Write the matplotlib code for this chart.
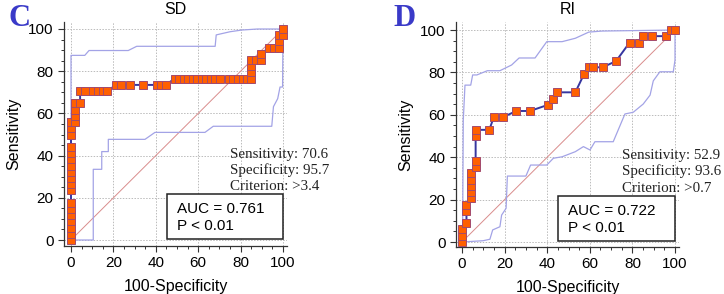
import matplotlib
matplotlib.use("Agg")
import matplotlib.pyplot as plt
from matplotlib.patches import Rectangle
from matplotlib.ticker import MultipleLocator

# ROC points, panel C (SD)
sd_x = [0, 0, 0, 0, 0, 0, 0, 0, 0, 0, 0, 0, 0, 0, 0, 0, 0, 0, 0,
        2.1, 2.1, 2.1, 2.1, 4.3, 4.3, 6.4, 10.6, 12.8, 14.9, 17.0,
        21.3, 23.4, 27.7, 34.0, 40.4, 42.6, 44.7,
        48.9, 51.1, 53.2, 55.3, 57.4, 59.6, 61.7, 63.8, 66.0, 68.1, 70.2,
        74.5, 76.6, 78.7, 80.9, 83.0, 85.1, 85.1, 85.1, 85.1,
        87.2, 89.4, 89.4, 93.6, 95.7, 97.9, 97.9, 97.9, 100, 100]
sd_y = [0, 2.9, 5.9, 8.8, 11.8, 14.7, 17.6, 23.5, 26.5, 29.4, 32.4, 35.3, 38.2, 41.2, 44.1,
        50.0, 52.9, 55.9, 55.9,
        55.9, 58.8, 61.8, 64.7, 64.7, 70.6, 70.6, 70.6, 70.6, 70.6, 70.6,
        73.5, 73.5, 73.5, 73.5, 73.5, 73.5, 73.5,
        76.5, 76.5, 76.5, 76.5, 76.5, 76.5, 76.5, 76.5, 76.5, 76.5, 76.5,
        76.5, 76.5, 76.5, 76.5, 76.5, 76.5, 79.4, 82.4, 85.3,
        85.3, 85.3, 88.2, 91.2, 91.2, 91.2, 94.1, 97.1, 97.1, 100]
sd_up_x = [0, 0, 6.5, 8.5, 27, 31, 68, 68.5, 75, 80.5, 88, 100]
sd_up_y = [0, 87.5, 87.5, 89.8, 89.8, 91.8, 91.8, 97.2, 98.7, 99.5, 100, 100]
sd_lo_x = [0, 10.5, 10.5, 14.5, 14.5, 17.6, 17.6, 34.9, 39.6, 63.2, 67.1, 94.7, 95.5, 97.5, 98.6, 99.8, 100]
sd_lo_y = [0, 0, 33.5, 33.5, 41.9, 41.9, 47.7, 47.7, 51.0, 51.0, 53.9, 53.9, 63.2, 67.0, 72.5, 72.5, 100]

# ROC points, panel D (RI)
ri_x = [0, 0, 0, 2.1, 2.1, 2.1, 4.3, 4.3, 4.3, 4.3, 4.3, 6.4, 6.4, 6.4, 6.4,
        12.8, 14.9, 19.1, 25.5, 31.9, 40.4, 42.6, 44.7, 53.2, 57.4, 59.6, 61.7,
        66.0, 72.3, 78.7, 83.0, 85.1, 89.4, 95.7, 97.9, 100]
ri_y = [0, 2.9, 5.9, 8.8, 14.7, 17.6, 20.6, 23.5, 26.5, 29.4, 32.4, 35.3, 38.2, 50.0, 52.9,
        52.9, 58.8, 58.8, 61.8, 61.8, 64.7, 67.6, 70.6, 70.6, 79.4, 82.4, 82.4,
        82.4, 85.3, 94.1, 94.1, 97.1, 97.1, 97.1, 100, 100]
ri_up_x = [0, 0.3, 0.6, 1.4, 4.1, 5.0, 7.0, 11.9, 17.8, 23.3, 26.8, 34.3, 39.8, 47.0, 53.2, 59.5, 65.7, 100]
ri_up_y = [0, 6.0, 57.5, 74.0, 74.0, 78.8, 78.8, 80.8, 80.8, 83.5, 86.8, 86.8, 94.5, 94.5, 96.1, 99.0, 99.5, 100]
ri_lo_x = [0, 9.9, 13.1, 14.4, 17.8, 18.6, 20.7, 21.3, 30.0, 32.2, 39.8, 42.9, 47.0, 53.2, 57.0,
           60.1, 62.4, 71.0, 76.5, 80.4, 85.1, 88.3, 89.8, 92.9, 99.2, 100, 100]
ri_lo_y = [0, 0.6, 1.3, 5.7, 7.2, 12.7, 15.9, 31.1, 31.1, 36.3, 36.3, 39.5, 40.2, 42.6, 45.0,
           43.4, 47.3, 47.3, 60.4, 61.2, 65.1, 69.3, 76.0, 80.3, 80.3, 85.8, 100]

panels = [
    ("C", "SD", sd_x, sd_y, sd_up_x, sd_up_y, sd_lo_x, sd_lo_y,
     ["Sensitivity: 70.6", "Specificity: 95.7", "Criterion: >3.4"], "AUC = 0.761"),
    ("D", "RI", ri_x, ri_y, ri_up_x, ri_up_y, ri_lo_x, ri_lo_y,
     ["Sensitivity: 52.9", "Specificity: 93.6", "Criterion: >0.7"], "AUC = 0.722"),
]

W, H = 724, 294
fig = plt.figure(figsize=(W / 100, H / 100), dpi=100)
plt.rcParams["font.family"] = "Liberation Sans"

# axes boxes in pixels: left spine, right, bottom spine, top, x0/x100, y0/y100, letter x
boxes = [(64, 287, 246, 22, 71, 283, 240, 29, 19),
         (456, 679, 247, 22, 462, 675, 242, 30, 405)]

line_col = "#3636a0"
ci_col = "#a3a3e6"
diag_col = "#d98c8c"

for (letter, title, x, y, ux, uy, lx, ly, stats, auc), box in zip(panels, boxes):
    l, r, b, t, x0, x1, y0, y1, lx_pix = box
    ax = fig.add_axes([l / W, (H - b) / H, (r - l) / W, (b - t) / H])
    sx = (x1 - x0) / 100
    sy = (y0 - y1) / 100
    ax.set_xlim(-(x0 - l) / sx, 100 + (r - x1) / sx)
    ax.set_ylim(-(b - y0) / sy, 100 + (y1 - t) / sy)

    ax.plot([0, 100], [0, 100], color=diag_col, lw=0.7, zorder=2)
    ax.plot(ux, uy, color=ci_col, lw=0.9, zorder=2)
    ax.plot(lx, ly, color=ci_col, lw=0.9, zorder=2)
    ax.plot(x, y, color=line_col, lw=1.4, marker="s", ms=5.8,
            mfc="#ff6000", mec="#a34a6e", mew=0.7, zorder=3, clip_on=False)

    for s in ["top", "right"]:
        ax.spines[s].set_visible(False)
    for s in ["left", "bottom"]:
        ax.spines[s].set_linewidth(0.9)
        ax.spines[s].set_color("#333333")
    ax.xaxis.set_major_locator(MultipleLocator(20))
    ax.yaxis.set_major_locator(MultipleLocator(20))
    ax.xaxis.set_minor_locator(MultipleLocator(5))
    ax.yaxis.set_minor_locator(MultipleLocator(5))
    ax.tick_params(which="major", length=4, width=0.8, labelsize=11, pad=3.5, color="#333333")
    ax.tick_params(which="minor", length=2.5, width=0.7, color="#333333")
    ax.grid(True, which="major", color="#bbbbbb", ls=(0, (1.5, 1.5)), lw=0.7)
    ax.set_axisbelow(True)

    ax.set_title(title, fontsize=11.5, pad=6)
    ax.set_xlabel("100-Specificity", fontsize=11.5, labelpad=6)
    ax.set_ylabel("Sensitivity", fontsize=11.5, labelpad=5)

    ax.add_patch(Rectangle((45.3, 0.5), 54.5, 21.3, fill=True, facecolor="white",
                           edgecolor="#222222", lw=1.1, zorder=4))
    ax.text(50, 12.8, auc, fontsize=11, zorder=5)
    ax.text(50, 4.7, "P < 0.01", fontsize=11, zorder=5)
    for i, s in enumerate(stats):
        ax.text(75, 39 - i * 7.6, s, fontsize=10.8, family="Liberation Serif",
                color="#222222", zorder=5)

    fig.text(lx_pix / W, 1 - 18 / H, letter, fontsize=22, fontweight="bold",
             family="Liberation Serif", color="#3a3ac8", va="center", ha="center")

fig.savefig("out.png", dpi=100)
